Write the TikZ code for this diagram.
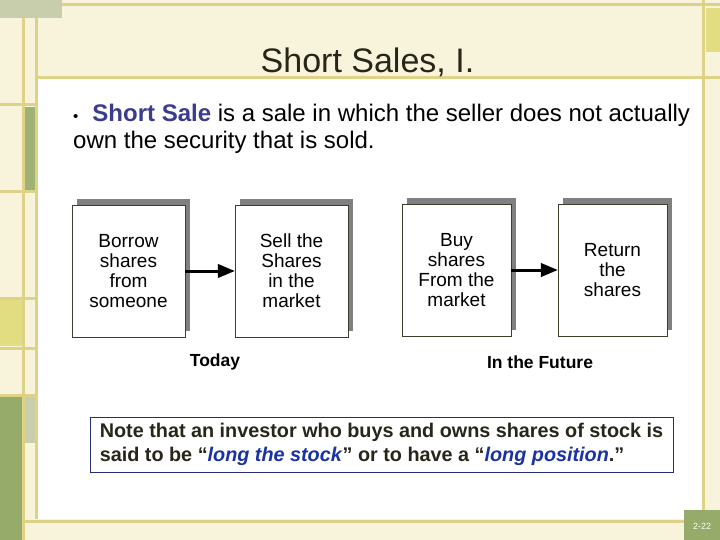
\documentclass[tikz,border=0pt]{standalone}
\usepackage{fontspec}
\setmainfont{Liberation Sans}
\usepackage{tikz}
\usetikzlibrary{arrows,shapes,shadows}
\definecolor{cream}{RGB}{248,244,220}
\definecolor{khaki}{RGB}{222,210,135}
\definecolor{sage}{RGB}{150,170,105}
\definecolor{paleSage}{RGB}{200,206,172}
\definecolor{mustard}{RGB}{226,221,128}
\definecolor{boxline}{RGB}{60,62,40}
\definecolor{termblue}{RGB}{60,60,140}
\definecolor{longblue}{RGB}{25,50,165}
\definecolor{notebox}{RGB}{35,45,120}
\definecolor{inkdark}{RGB}{40,38,25}
\tikzstyle{rule}=[khaki,line width=3pt]
\tikzstyle{stepbox}=[draw=boxline,fill=white,line width=0.8pt,minimum height=132pt,inner sep=2pt,align=center,font=\fontsize{19}{20}\selectfont,drop shadow={shadow xshift=5pt,shadow yshift=6pt,fill=gray,opacity=1}]
\tikzstyle{arrow}=[draw,line width=3pt,-triangle 45]
\tikzstyle{when}=[font=\bfseries\fontsize{17.5}{20}\selectfont]
\newcommand{\lng}[1]{\textcolor{longblue}{\textit{#1}}}

\begin{document}
\begin{tikzpicture}[x=1pt,y=-1pt]
    \useasboundingbox (0,0) rectangle (720,540);
    \fill[cream] (0,0) rectangle (720,540);
    \fill[white] (37,79) rectangle (702,519);
    \fill[paleSage] (0,0) rectangle (62,18);
    \fill[sage!80!paleSage] (24,107) rectangle (35,191);
    \fill[mustard] (0,299) rectangle (22,346);
    \fill[sage] (0,397) rectangle (22,540);
    \fill[paleSage] (24,397) rectangle (35,443);
    \fill[mustard] (706,8) rectangle (720,52);
    \foreach \y in {105,192,298,348,395}
        \draw[rule] (0,\y) -- (37,\y);
    \draw[rule] (23,18) -- (23,540);
    \draw[rule] (36,18) -- (36,519);
    \draw[rule] (62,5) -- (720,5);
    \draw[rule] (36,78) -- (720,78);
    \draw[rule] (703,0) -- (703,510);
    \draw[rule] (24,521) -- (684,521);
    \fill[sage] (684,510) rectangle (720,540);
    \node[text=white,font=\fontsize{9}{10}\selectfont] (pagenum) at (702,526) {2-22};

    \node[text=inkdark,font=\fontsize{34}{40}\selectfont] (title) at (367.5,62) {Short Sales, I.};
    \node[anchor=north west,align=left,inner sep=0pt,font=\fontsize{24}{27}\selectfont] (intro) at (73,104)
        {{\fontsize{15}{15}\selectfont•}\hspace{14pt}\textcolor{termblue}{\bfseries Short Sale} is a sale in which the seller does not actually\\own the security that is sold.};

    \foreach \pos/\name/\bw/\txt in {%
        (128.5,271)/borrow/113/{Borrow\\shares\\from\\someone},
        (291.5,271)/sell/113/{Sell the\\Shares\\in the\\market},
        (456.5,270)/buy/109/{Buy\\shares\\From the\\market},
        (612.5,270)/return/109/{Return\\the\\shares}}
        \node[stepbox,minimum width=\bw pt] (\name) at \pos {\txt};
    \foreach \source/\dest in {borrow/sell, buy/return}
        \path[arrow] (\source) -- (\dest);

    \node[when] (today) at (215,362) {Today};
    \node[when] (future) at (540,362) {In the Future};

    \node[draw=notebox,line width=1pt,fill=white,minimum width=583pt,minimum height=55pt,align=left,text=inkdark,font=\bfseries\fontsize{19.8}{24}\selectfont] (note) at (381.5,444.5)
        {Note that an investor who buys and owns shares of stock is\\said to be “\lng{long the stock}” or to have a “\lng{long position}.”};
\end{tikzpicture}
\end{document}
